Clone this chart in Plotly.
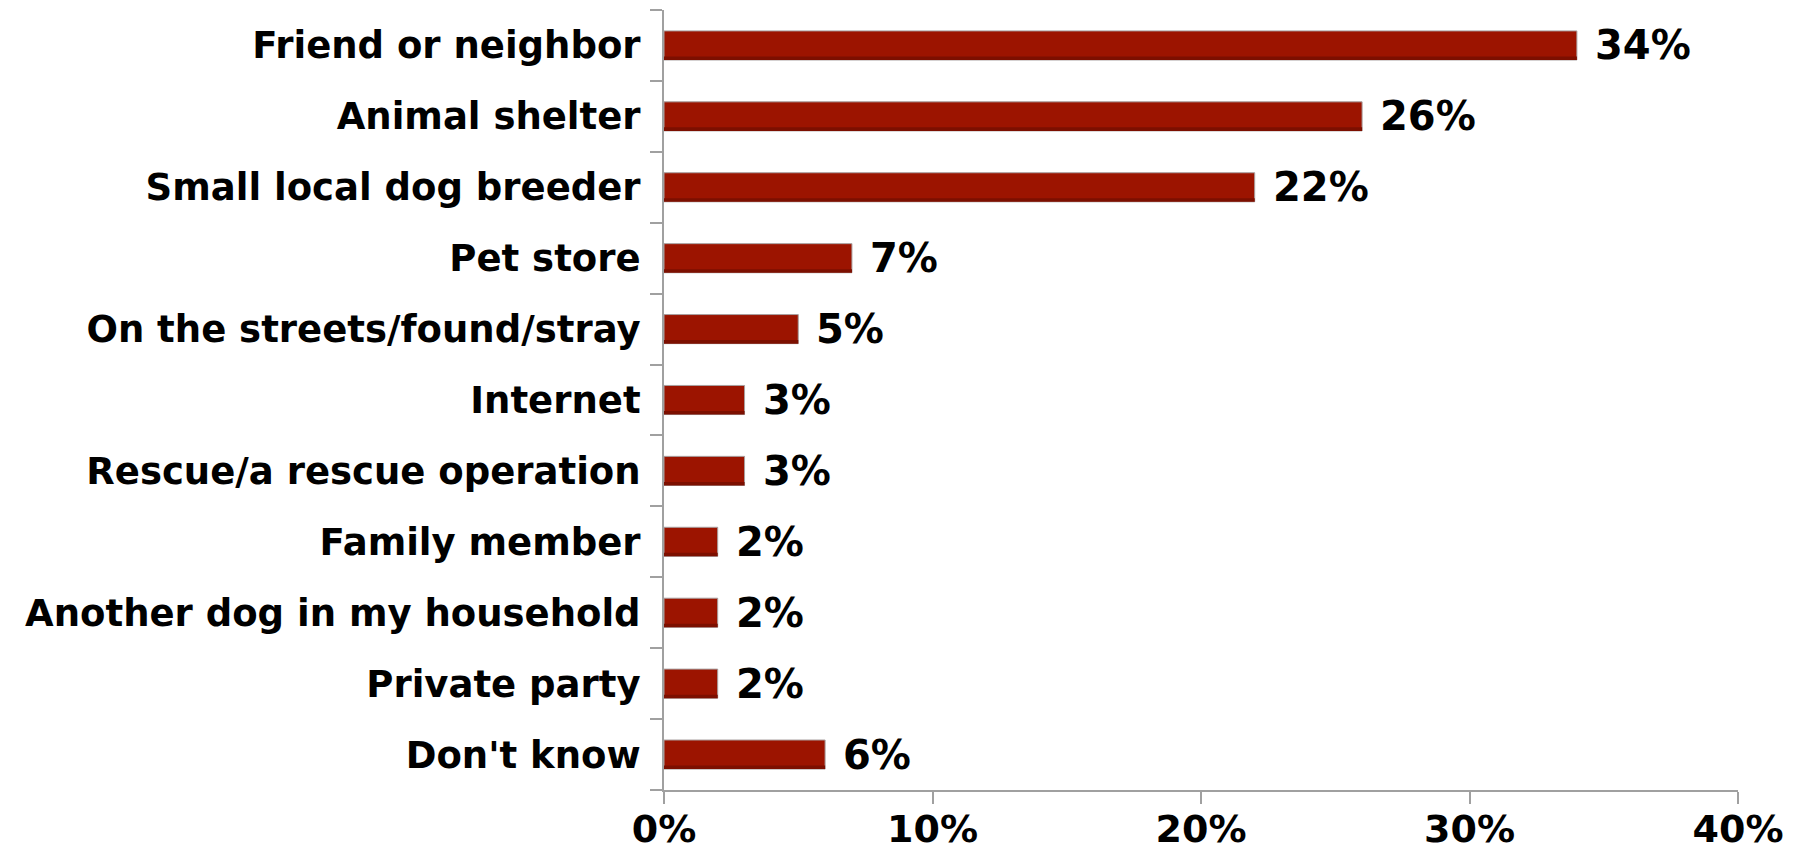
import plotly.graph_objects as go

categories = ["Friend or neighbor", "Animal shelter", "Small local dog breeder", "Pet store",
              "On the streets/found/stray", "Internet", "Rescue/a rescue operation",
              "Family member", "Another dog in my household", "Private party", "Don't know"]
values = [34, 26, 22, 7, 5, 3, 3, 2, 2, 2, 6]
x_ticks = [0, 10, 20, 30, 40]
x_tick_labels = ["0%", "10%", "20%", "30%", "40%"]

FONT = "DejaVu Sans"
BAR_W = 0.41
SHADE_W = 0.05

fig = go.Figure()
fig.add_trace(go.Bar(
    x=values, y=categories, orientation="h",
    width=BAR_W, offset=-BAR_W / 2,
    marker=dict(color="#9C1400", line=dict(color="#A8A0A0", width=1)),
    hoverinfo="skip",
))
# darker lower edge of each bar (bevel effect)
fig.add_trace(go.Bar(
    x=values, y=categories, orientation="h",
    width=SHADE_W, offset=BAR_W / 2 - SHADE_W,
    marker=dict(color="#7C0F00", line=dict(width=0)),
    hoverinfo="skip",
))

for c, v in zip(categories, values):
    fig.add_annotation(x=v, y=c, text=f"<b>{v}%</b>", showarrow=False,
                       xanchor="left", yanchor="middle", xshift=16,
                       font=dict(family=FONT, size=40, color="black"))

fig.update_layout(
    width=1804, height=854,
    margin=dict(l=656, r=74, t=2, b=72),
    paper_bgcolor="white", plot_bgcolor="white",
    barmode="overlay", showlegend=False,
    font=dict(family=FONT, size=37, color="black"),
)
fig.update_xaxes(
    range=[0, 40], tickvals=x_ticks, ticktext=[f"<b>{t}</b>" for t in x_tick_labels],
    showgrid=False, zeroline=False, showline=True, linecolor="#A0A0A0", linewidth=2,
    ticks="outside", ticklen=12, tickwidth=2, tickcolor="#A0A0A0",
    ticklabelstandoff=-8, automargin=False,
    tickfont=dict(family=FONT, size=38, color="black"),
)
fig.update_yaxes(
    type="category", autorange="reversed",
    tickvals=categories, ticktext=[f"<b>{c}</b>" for c in categories],
    showgrid=False, showline=True, linecolor="#A0A0A0", linewidth=2,
    ticks="outside", ticklen=12, tickwidth=2, tickcolor="#A0A0A0",
    tickson="boundaries", ticklabelstandoff=14, automargin=False,
    tickfont=dict(family=FONT, size=37, color="black"),
)

fig.write_html("out.html")
